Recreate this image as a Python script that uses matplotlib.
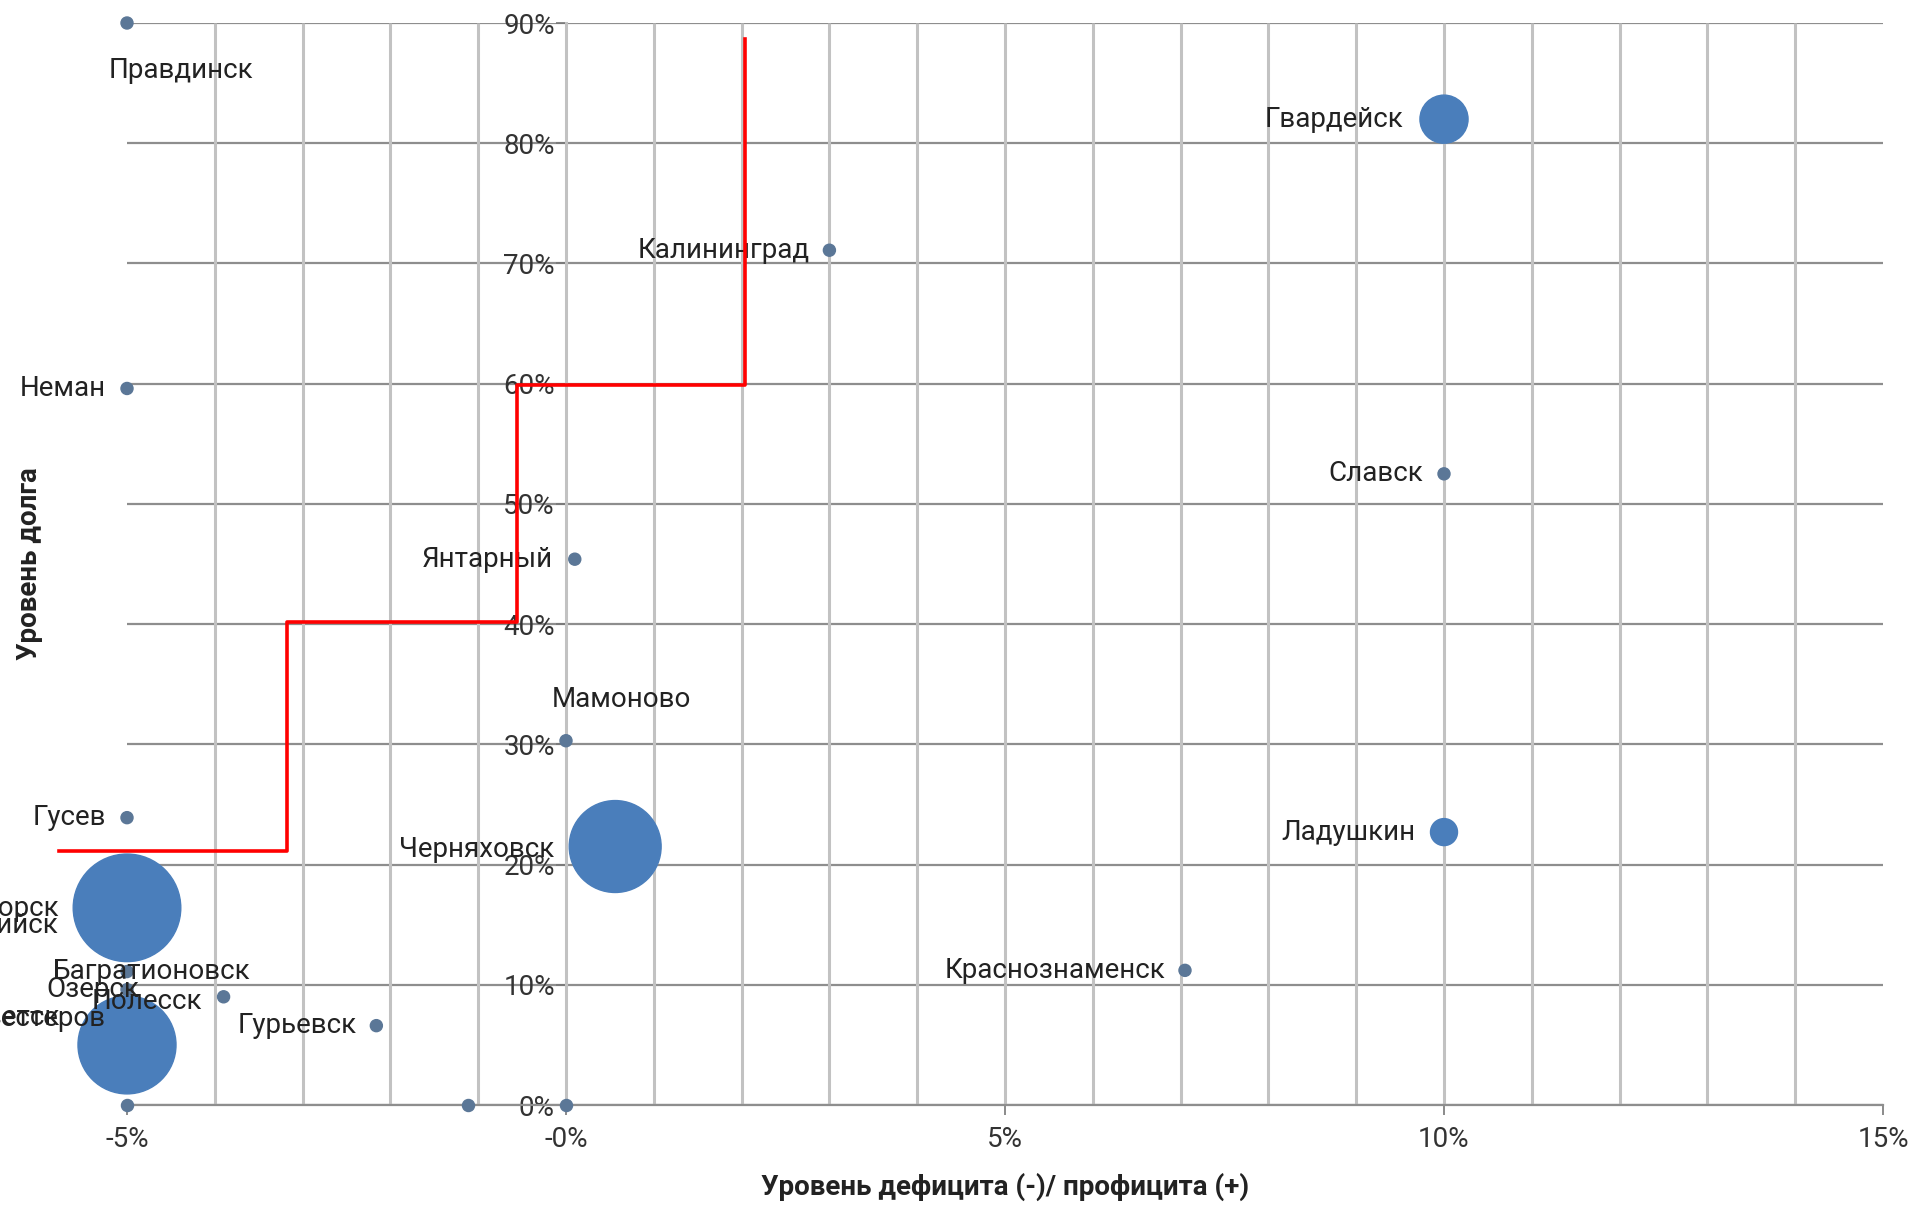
import numpy as np
import matplotlib.pyplot as plt
from matplotlib import font_manager

# --- data: x = deficit/surplus level (%), y = debt level (%), bubble = relative weight
towns = ["Правдинск", "Гвардейск", "Калининград", "Неман", "Славск", "Янтарный",
         "Мамоново", "Гусев", "Черняховск", "Ладушкин", "Краснознаменск",
         "Светлогорск", "Балтийск", "Багратионовск", "Озерск", "Полесск",
         "Гурьевск", "Нестеров", "Советск"]
deficit = [-5.0, 10.0, 3.0, -5.0, 10.0, 0.1,
           0.0, -5.0, 0.56, 10.0, 7.05,
           -5.0, -5.0, -5.0, -5.0, -3.9,
           -2.16, -5.0, -5.0]
debt = [90.0, 82.0, 71.1, 59.6, 52.5, 45.4,
        30.3, 23.9, 21.5, 22.7, 11.2,
        16.4, 15.2, 11.1, 9.6, 9.0,
        6.6, 7.2, 5.0]
bubble = [1.25, 20, 1.25, 1.25, 1.25, 1.25,
          1.25, 1.25, 73, 6.3, 1.25,
          100, 1.25, 1.25, 1.25, 1.25,
          1.25, 1.25, 83]

# points on the zero debt line (labels not visible)
zero_deficit = [-5.0, -1.12, 0.0]
zero_debt = [0.0, 0.0, 0.0]

# label placement: offset in pixels from the point and alignment
label_dx = [54, -41, -20, -21, -21, -22, 55, -21, -61, -29, -20,
            -68, -68, 25, -34, -21, -20, -21, -67]
label_dy = [-48, 0, 0, 0, 0, 0, 41, 0, -3, 0, 0,
            -1, -3, 0, 0, -5, 0, 0, 27]
label_ha = ["center", "right", "right", "right", "right", "right", "center", "right",
            "right", "right", "right", "right", "right", "center", "center", "right",
            "right", "right", "right"]

# red step boundary
step_x = [-5.78, -3.18, -3.18, -0.56, -0.56, 2.04, 2.04]
step_y = [21.1, 21.1, 40.2, 40.2, 59.9, 59.9, 88.7]

xticks = [-5, 0, 5, 10, 15]
xtick_labels = ["-5%", "-0%", "5%", "10%", "15%"]
yticks = [0, 10, 20, 30, 40, 50, 60, 70, 80, 90]

available = {f.name for f in font_manager.fontManager.ttflist}
font = "Liberation Sans Narrow" if "Liberation Sans Narrow" in available else "Roboto"
fs = 20
plt.rcParams['font.family'] = [font, 'DejaVu Sans']

fig = plt.figure(figsize=(19.13, 12.07), dpi=100)
ax = fig.add_axes([127 / 1913, 1 - 1105 / 1207, 1756 / 1913, 1082 / 1207])
ax.set_xlim(-5, 15)
ax.set_ylim(0, 90)

# grid
ax.vlines([v for v in np.arange(-4, 15) if v != 0], 0, 90, color='#c2c2c2', lw=2.2, zorder=1)
ax.yaxis.grid(True, color='#8e8e8e', lw=1.6, zorder=1)
ax.set_axisbelow(True)

for s in ['top', 'right']:
    ax.spines[s].set_visible(False)
ax.spines['left'].set_position(('data', 0))
ax.spines['left'].set_color('#c2c2c2')
ax.spines['left'].set_linewidth(2.2)
ax.spines['bottom'].set_color('#8e8e8e')
ax.spines['bottom'].set_linewidth(1.6)

ax.set_xticks(xticks)
ax.set_xticklabels(xtick_labels)
ax.set_yticks(yticks)
ax.set_yticklabels([f"{v}%" for v in yticks])
ax.tick_params(axis='x', length=7, width=1.2, color='#777777', pad=8, labelsize=fs, labelcolor='#333333')
ax.tick_params(axis='y', length=7, width=1.2, color='#777777', pad=1, labelsize=fs, labelcolor='#333333')

# points
sizes = np.array(bubble) * 60
small = np.array(bubble) < 2
xs, ys = np.array(deficit), np.array(debt)
ax.scatter(zero_deficit, zero_debt, s=75, color='#5b7797', zorder=3, clip_on=False)
ax.scatter(xs[small], ys[small], s=sizes[small], color='#5b7797', zorder=3, clip_on=False)
ax.scatter(xs[~small], ys[~small], s=sizes[~small], color='#4a7ebb', zorder=4, clip_on=False)

for name, x, y, dx, dy, ha in zip(towns, deficit, debt, label_dx, label_dy, label_ha):
    ax.annotate(name, (x, y), xytext=(dx * 0.72, dy * 0.72), textcoords='offset points',
                ha=ha, va='center', fontsize=fs, color='#222222', zorder=6,
                annotation_clip=False)

ax.plot(step_x, step_y, color='#ff0000', lw=2.6, zorder=7, clip_on=False)

ax.set_xlabel("Уровень дефицита (-)/ профицита (+)", fontsize=fs, fontweight='bold', color='#222222')
ax.xaxis.set_label_coords(0.5, (1105 - 1173) / 1082)
ax.set_ylabel("Уровень долга", fontsize=fs, fontweight='bold', color='#222222')
ax.yaxis.set_label_coords((43 - 127) / 1756, 0.5)

fig.savefig("out.png", dpi=100)
